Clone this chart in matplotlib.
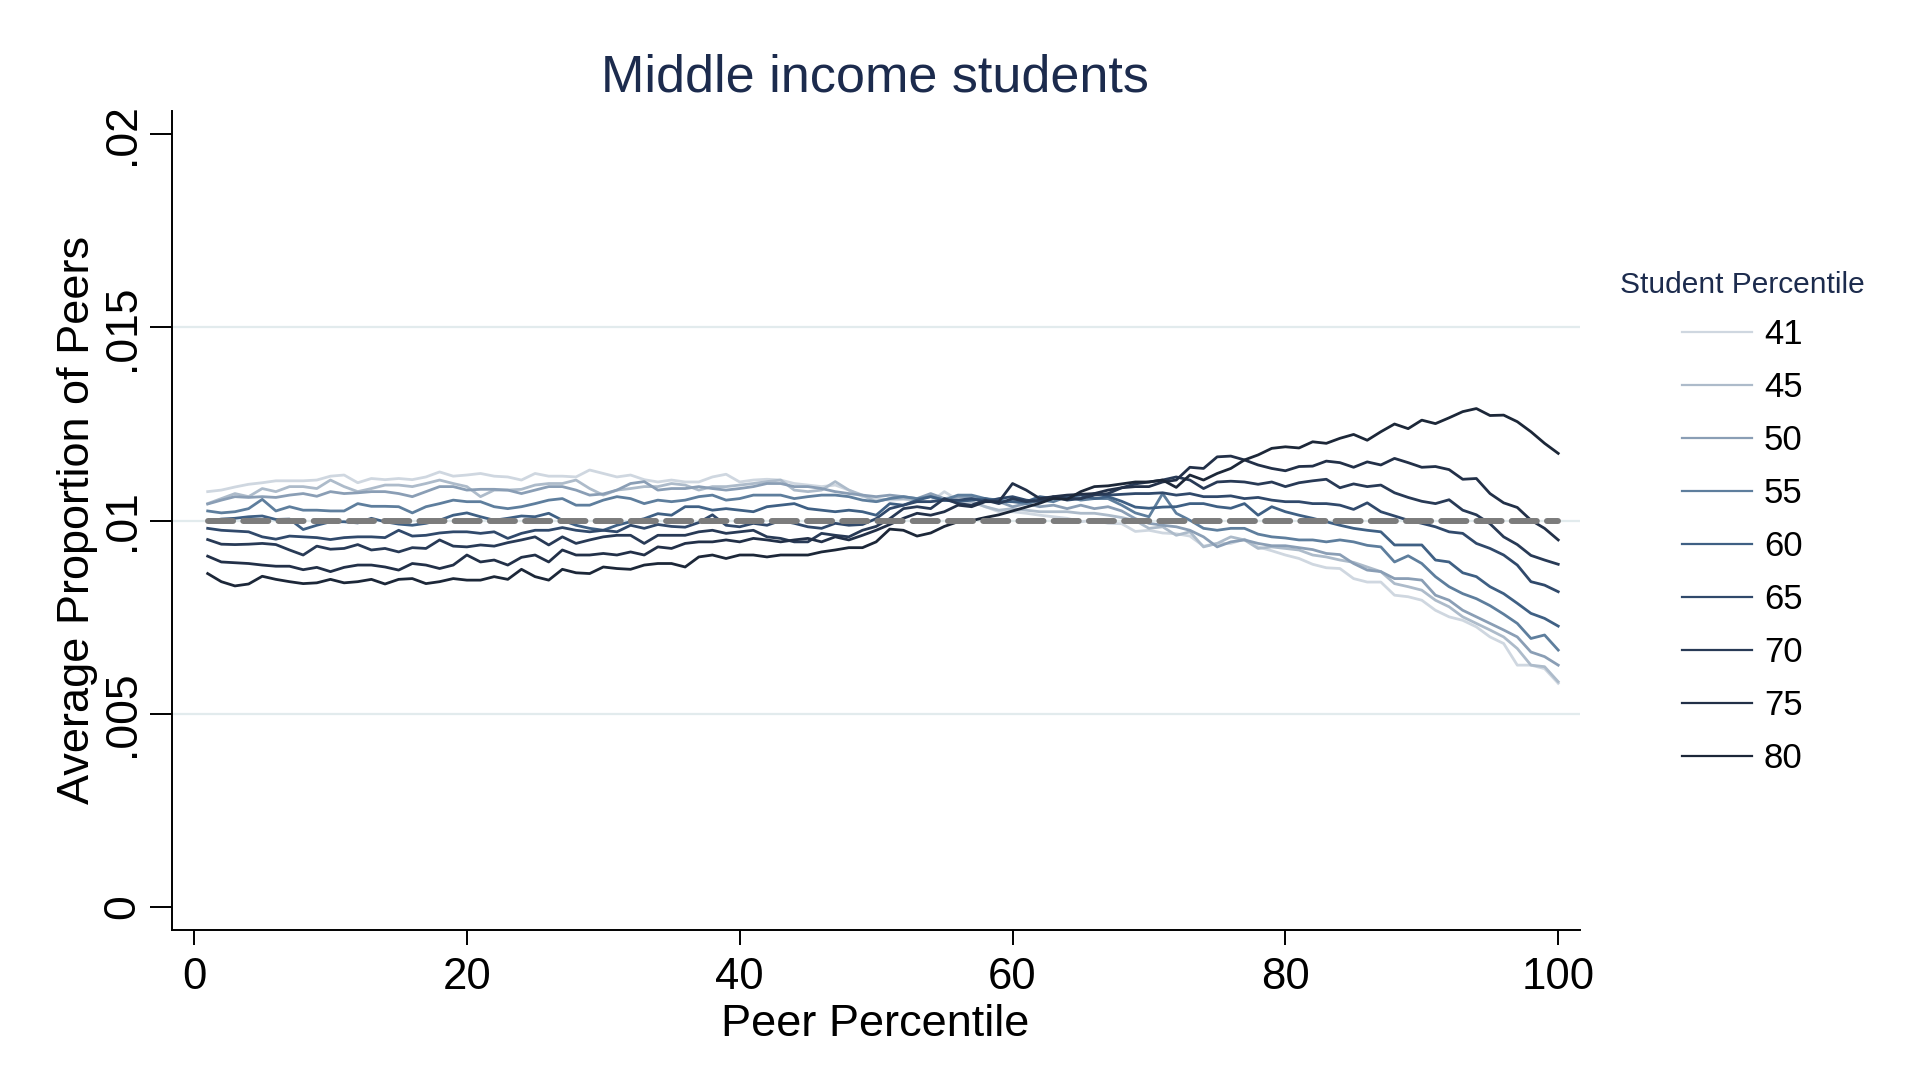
import numpy as np
import matplotlib.pyplot as plt
from matplotlib.lines import Line2D

plt.rcParams['font.family'] = ['Liberation Sans', 'DejaVu Sans']

# === Data ===
peer_pct = np.arange(1, 101)
student_pct = [41, 45, 50, 55, 60, 65, 70, 75, 80]

# average proportion of peers, in units of 1e-5, for peer percentiles 1..100
s41 = [1075, 1079, 1087, 1094, 1098, 1103, 1103, 1103, 1105, 1115, 1118, 1098, 1109, 1106, 1109, 1106, 1113,
       1126, 1115, 1118, 1122, 1115, 1113, 1105, 1122, 1115, 1115, 1113, 1131, 1122, 1113, 1118, 1106,
       1100, 1105, 1100, 1100, 1113, 1120, 1100, 1105, 1107, 1105, 1096, 1092, 1088, 1092, 1079, 1062, 1057,
       1053, 1055, 1053, 1049, 1075, 1053, 1049, 1036, 1023, 1023, 1019, 1014, 1010, 1006, 997, 1001, 993,
       992, 972, 975, 968, 966, 960, 934, 941, 941, 952, 932, 922, 911, 902, 887, 878,
       876, 850, 841, 841, 807, 803, 794, 768, 751, 742, 725, 699, 682, 626, 626, 617, 579]
s45 = [1044, 1057, 1070, 1062, 1083, 1075, 1088, 1088, 1083, 1105, 1088, 1075, 1083, 1092, 1092, 1088, 1096,
       1105, 1096, 1088, 1062, 1079, 1079, 1081, 1092, 1096, 1096, 1105, 1083, 1066, 1079, 1083, 1088,
       1088, 1096, 1092, 1079, 1088, 1088, 1092, 1096, 1101, 1105, 1079, 1075, 1079, 1101, 1079, 1066, 1049,
       1057, 1057, 1053, 1066, 1053, 1053, 1049, 1036, 1027, 1031, 1027, 1023, 1023, 1023, 1019, 1019, 1014,
       1008, 1000, 980, 984, 962, 971, 932, 941, 958, 950, 928, 932, 928, 924, 911, 906,
       898, 892, 880, 868, 837, 829, 820, 794, 777, 751, 734, 717, 699, 669, 626, 622, 583]
s50 = [1043, 1053, 1062, 1060, 1062, 1060, 1066, 1070, 1063, 1075, 1070, 1072, 1075, 1075, 1070, 1062, 1075,
       1088, 1088, 1079, 1081, 1081, 1079, 1070, 1079, 1088, 1088, 1079, 1066, 1069, 1079, 1096, 1101,
       1079, 1083, 1083, 1088, 1083, 1079, 1083, 1088, 1096, 1096, 1088, 1088, 1083, 1075, 1070, 1066, 1062,
       1066, 1062, 1057, 1070, 1057, 1062, 1062, 1053, 1049, 1036, 1044, 1036, 1040, 1031, 1040, 1031, 1036,
       1025, 1005, 993, 988, 984, 975, 958, 932, 945, 950, 941, 935, 935, 930, 925, 915,
       912, 889, 872, 868, 850, 850, 846, 807, 794, 768, 751, 734, 717, 699, 660, 648, 626]
s55 = [1025, 1020, 1023, 1031, 1055, 1025, 1036, 1027, 1027, 1025, 1025, 1044, 1037, 1037, 1036, 1020, 1036,
       1044, 1053, 1049, 1049, 1036, 1031, 1036, 1044, 1053, 1057, 1040, 1040, 1053, 1062, 1057, 1044,
       1053, 1049, 1053, 1062, 1066, 1053, 1057, 1066, 1066, 1066, 1057, 1062, 1066, 1066, 1062, 1053, 1049,
       1057, 1062, 1057, 1062, 1053, 1066, 1066, 1057, 1053, 1049, 1044, 1053, 1049, 1062, 1053, 1057, 1057,
       1040, 1020, 1010, 1070, 1019, 1001, 980, 975, 980, 980, 965, 958, 955, 950, 950, 945,
       950, 945, 936, 932, 893, 909, 889, 855, 829, 811, 798, 780, 758, 734, 695, 704, 665]
s60 = [998, 1004, 1006, 1010, 1012, 1003, 1004, 977, 988, 997, 997, 994, 1006, 997, 991, 988, 993,
       1001, 1014, 1020, 1010, 1001, 1006, 1012, 1010, 1019, 1001, 988, 980, 975, 988, 997, 1005,
       1018, 1014, 1036, 1036, 1027, 1031, 1027, 1023, 1036, 1040, 1044, 1031, 1027, 1023, 1027, 1023, 1014,
       1044, 1040, 1053, 1062, 1053, 1049, 1053, 1057, 1049, 1049, 1049, 1062, 1057, 1062, 1066, 1057, 1062,
       1050, 1035, 1032, 1035, 1036, 1044, 1044, 1036, 1032, 1044, 1014, 1036, 1023, 1014, 1006, 997,
       988, 980, 975, 971, 937, 937, 937, 898, 893, 865, 855, 829, 811, 786, 760, 747, 727]
s65 = [980, 975, 973, 971, 958, 952, 960, 958, 956, 951, 956, 958, 958, 956, 975, 960, 962,
       968, 971, 971, 967, 971, 954, 967, 975, 975, 982, 975, 971, 975, 971, 988, 980,
       990, 985, 983, 995, 1015, 988, 984, 993, 988, 1000, 993, 984, 980, 993, 988, 990, 1005,
       1031, 1040, 1049, 1049, 1053, 1053, 1057, 1049, 1057, 1062, 1053, 1049, 1062, 1053, 1057, 1070, 1066,
       1068, 1070, 1070, 1072, 1066, 1070, 1062, 1062, 1064, 1057, 1060, 1053, 1049, 1049, 1044, 1044,
       1040, 1029, 1046, 1023, 1012, 1001, 993, 984, 971, 967, 941, 928, 911, 885, 842, 833, 816]
s70 = [951, 939, 938, 939, 941, 938, 924, 911, 934, 926, 928, 938, 924, 928, 919, 930, 928,
       950, 934, 932, 937, 934, 943, 950, 958, 937, 958, 941, 950, 958, 962, 962, 941,
       962, 962, 962, 971, 975, 967, 971, 975, 958, 954, 945, 945, 967, 962, 958, 975, 985,
       1005, 1031, 1036, 1031, 1057, 1044, 1040, 1053, 1044, 1057, 1049, 1053, 1057, 1057, 1057, 1066, 1070,
       1085, 1095, 1100, 1105, 1113, 1105, 1083, 1100, 1102, 1100, 1094, 1100, 1088, 1098, 1103, 1107,
       1085, 1095, 1088, 1092, 1072, 1060, 1050, 1044, 1054, 1027, 1015, 992, 958, 938, 910, 898, 887]
s75 = [908, 893, 891, 889, 885, 882, 882, 873, 879, 868, 879, 885, 885, 880, 872, 889, 885,
       876, 885, 911, 893, 898, 885, 905, 911, 893, 924, 911, 911, 915, 911, 919, 911,
       932, 928, 941, 945, 945, 950, 945, 954, 950, 945, 950, 954, 945, 958, 950, 962, 975,
       990, 1006, 1019, 1014, 1023, 1040, 1036, 1049, 1049, 1096, 1079, 1057, 1062, 1066, 1068, 1070, 1079,
       1085, 1088, 1088, 1100, 1105, 1138, 1135, 1165, 1167, 1157, 1144, 1135, 1129, 1140, 1141, 1154,
       1150, 1138, 1152, 1144, 1161, 1150, 1138, 1140, 1132, 1107, 1109, 1070, 1046, 1034, 1001, 980, 950]
s80 = [863, 842, 831, 836, 856, 848, 842, 837, 839, 848, 839, 842, 848, 836, 848, 850, 837,
       842, 850, 846, 846, 855, 848, 874, 855, 846, 874, 865, 863, 880, 876, 874, 885,
       889, 889, 880, 906, 911, 902, 911, 911, 906, 911, 911, 911, 919, 924, 930, 930, 945,
       978, 975, 960, 968, 985, 997, 1000, 1008, 1015, 1025, 1035, 1045, 1058, 1055, 1075, 1088, 1090,
       1095, 1100, 1100, 1105, 1086, 1118, 1105, 1122, 1135, 1157, 1170, 1187, 1191, 1188, 1204, 1200,
       1213, 1223, 1208, 1230, 1250, 1238, 1260, 1251, 1266, 1282, 1290, 1272, 1273, 1256, 1230, 1200, 1174]
series = [s41, s45, s50, s55, s60, s65, s70, s75, s80]

uniform_share = 0.01
line_colors = ['#cfd7e0', '#adbbca', '#8a9eb5', '#5e7e9d', '#3f6084', '#30496b', '#283a56', '#223048', '#1c2738']
xticks = [0, 20, 40, 60, 80, 100]
yticks = [0, 0.005, 0.01, 0.015, 0.02]
ytick_labels = ["0", ".005", ".01", ".015", ".02"]
grid_levels = [0.005, 0.01, 0.015]
navy = '#1c2b4d'

# === Plot ===
fig = plt.figure(figsize=(19.29, 10.86), dpi=100)
ax = fig.add_axes([0.0892, 0.1436, 0.7299, 0.7542])

for lvl in grid_levels:
    ax.axhline(lvl, color='#e2ebed', lw=1.6, zorder=0)

for vals, col, lab in zip(series, line_colors, student_pct):
    ax.plot(peer_pct, np.array(vals) / 1e5, color=col, lw=2.0, label=str(lab), zorder=2)

# uniform benchmark: each peer percentile gets 1%
ax.plot([peer_pct[0], peer_pct[-1]], [uniform_share, uniform_share], color='#7c7c7c',
        lw=4.3, dashes=(4.2, 1.7), dash_capstyle='round', zorder=3)

ax.set_xlim(-1.61, 101.6)
ax.set_ylim(-0.000595, 0.0206)
ax.set_xticks(xticks)
ax.set_yticks(yticks)
ax.set_yticklabels(ytick_labels)
ax.tick_params(axis='y', length=16, width=1.4, pad=5, labelsize=32, labelrotation=90)
ax.tick_params(axis='x', length=11, width=1.4, pad=8.5, labelsize=31.5)
for lbl in ax.get_yticklabels():
    lbl.set_va('center')
for side in ['top', 'right']:
    ax.spines[side].set_visible(False)
for side in ['left', 'bottom']:
    ax.spines[side].set_linewidth(1.4)

fig.text(875 / 1929, 1 - 78 / 1086, 'Middle income students', ha='center', va='center',
         fontsize=37.5, color=navy)
fig.text(78 / 1929, 0.5216, 'Average Proportion of Peers', ha='center', va='center',
         rotation=90, fontsize=32.5)
fig.text(875 / 1929, 1 - 1025 / 1086, 'Peer Percentile', ha='center', va='center', fontsize=32.5)

handles = [Line2D([], [], color=c, lw=1.6) for c in line_colors]
leg = fig.legend(handles, [str(p) for p in student_pct], loc='upper left',
                 bbox_to_anchor=(0.8398, 0.7509), frameon=False,
                 title='Student Percentile', title_fontsize=21.5, fontsize=25,
                 handlelength=2.0, handletextpad=0.35, labelspacing=0.575,
                 borderpad=0, borderaxespad=0)
leg.get_title().set_color(navy)

plt.savefig('out.png', dpi=100)
